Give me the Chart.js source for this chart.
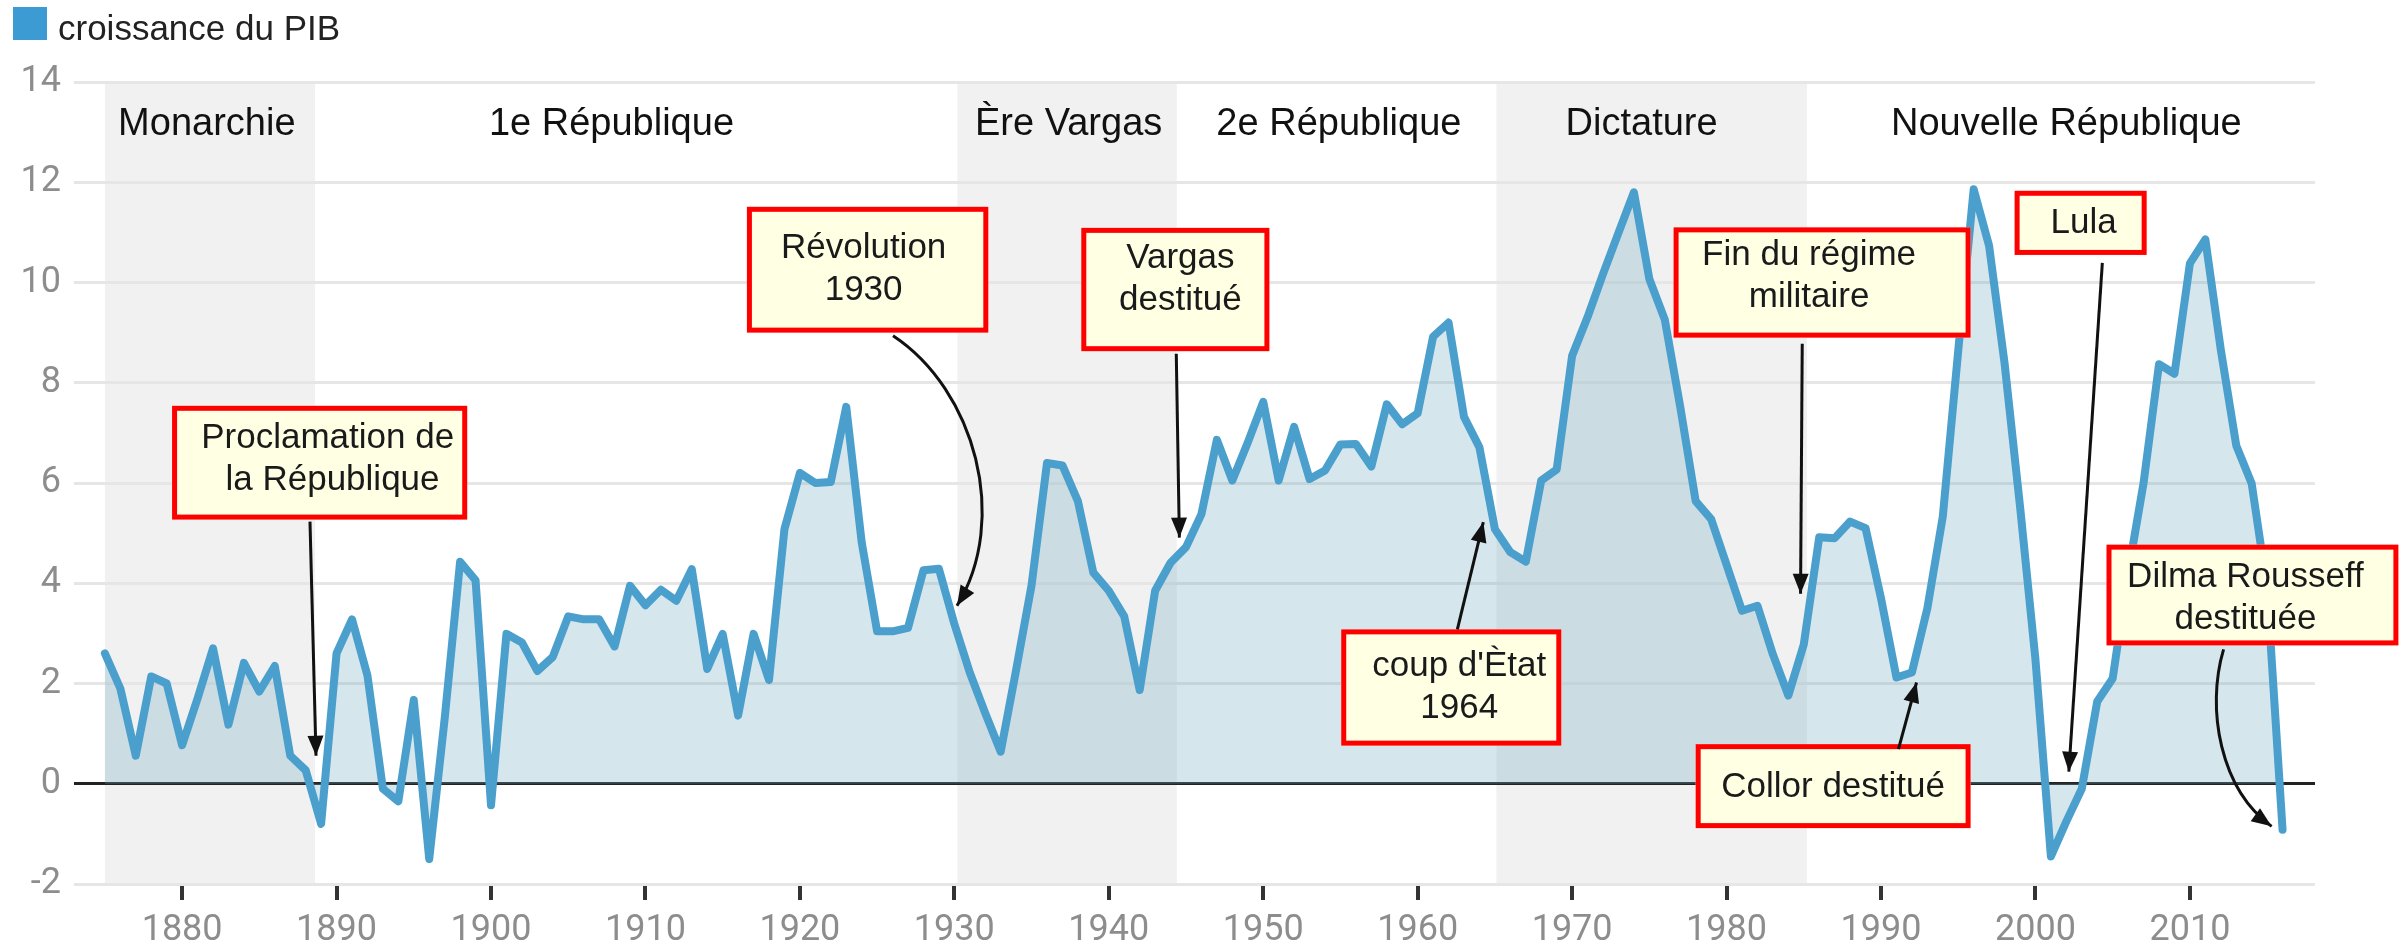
<!DOCTYPE html>
<html lang="fr">
<head>
<meta charset="utf-8">
<title>Croissance du PIB</title>
<script src="https://cdn.jsdelivr.net/npm/chart.js@4.4.1/dist/chart.umd.min.js"></script>
<style>
  html, body { margin: 0; padding: 0; background: #fff; }
  #wrap { position: relative; width: 2407px; height: 950px; }
</style>
</head>
<body>
<div id="wrap"><canvas id="pibChart"></canvas></div>
<script>
const years = [
  1875, 1876, 1877, 1878, 1879,
  1880, 1881, 1882, 1883, 1884, 1885, 1886, 1887, 1888, 1889,
  1890, 1891, 1892, 1893, 1894, 1895, 1896, 1897, 1898, 1899,
  1900, 1901, 1902, 1903, 1904, 1905, 1906, 1907, 1908, 1909,
  1910, 1911, 1912, 1913, 1914, 1915, 1916, 1917, 1918, 1919,
  1920, 1921, 1922, 1923, 1924, 1925, 1926, 1927, 1928, 1929,
  1930, 1931, 1932, 1933, 1934, 1935, 1936, 1937, 1938, 1939,
  1940, 1941, 1942, 1943, 1944, 1945, 1946, 1947, 1948, 1949,
  1950, 1951, 1952, 1953, 1954, 1955, 1956, 1957, 1958, 1959,
  1960, 1961, 1962, 1963, 1964, 1965, 1966, 1967, 1968, 1969,
  1970, 1971, 1972, 1973, 1974, 1975, 1976, 1977, 1978, 1979,
  1980, 1981, 1982, 1983, 1984, 1985, 1986, 1987, 1988, 1989,
  1990, 1991, 1992, 1993, 1994, 1995, 1996, 1997, 1998, 1999,
  2000, 2001, 2002, 2003, 2004, 2005, 2006, 2007, 2008, 2009,
  2010, 2011, 2012, 2013, 2014, 2015, 2016
];

// croissance du PIB (%)
const growth = [
  2.6, 1.9, 0.56, 2.14, 2.0,
  0.77, 1.7, 2.7, 1.18, 2.41, 1.84, 2.35, 0.56, 0.27, -0.8,
  2.6, 3.28, 2.16, -0.1, -0.35, 1.67, -1.5, 1.3, 4.43, 4.06,
  -0.43, 2.99, 2.82, 2.25, 2.53, 3.34, 3.28, 3.28, 2.74, 3.95,
  3.56, 3.87, 3.65, 4.28, 2.29, 2.99, 1.36, 2.99, 2.07, 5.08,
  6.2, 6.0, 6.02, 7.52, 4.82, 3.04, 3.04, 3.11, 4.26, 4.29,
  3.19, 2.22, 1.41, 0.64, 2.27, 3.96, 6.4, 6.35, 5.64, 4.21,
  3.85, 3.34, 1.87, 3.85, 4.41, 4.72, 5.38, 6.86, 6.05, 6.81,
  7.62, 6.05, 7.12, 6.08, 6.25, 6.77, 6.78, 6.33, 7.57, 7.17,
  7.39, 8.92, 9.2, 7.32, 6.71, 5.08, 4.62, 4.43, 6.05, 6.27,
  8.54, 9.31, 10.17, 10.99, 11.8, 10.07, 9.26, 7.52, 5.64, 5.28,
  4.37, 3.45, 3.55, 2.58, 1.76, 2.78, 4.92, 4.9, 5.23, 5.1,
  3.7, 2.12, 2.22, 3.5, 5.33, 8.64, 11.86, 10.73, 8.39, 5.54,
  2.48, -1.45, -0.75, -0.1, 1.64, 2.1, 4.2, 6.0, 8.37, 8.18,
  10.38, 10.86, 8.66, 6.75, 5.99, 3.9, -0.92
];

const yearTicks = [1880, 1890, 1900, 1910, 1920, 1930, 1940, 1950, 1960, 1970, 1980, 1990, 2000, 2010];

const periodNames = ['Monarchie', '1e République', 'Ère Vargas', '2e République', 'Dictature', 'Nouvelle République'];
const periodCenters = [1881.6, 1907.8, 1937.4, 1954.9, 1974.5, 2002.0];
const shadedPeriods = [[1875, 1888.6], [1930.2, 1944.4], [1965.1, 1985.2]];

// boxes: [year left, year right, value top, value bottom]; arrows in (year, value)
const notes = [
  { lines: ['Proclamation de', ' la République'], box: [1879.35, 1898.46, 7.54, 5.27], dx: 8, dy: -3,
    arrow: [[1888.28, 5.23], [1888.67, 0.56]] },
  { lines: ['Révolution', '1930'], box: [1916.57, 1932.2, 11.51, 9.0], dx: -4, dy: 0,
    arrow: [[1926.03, 8.94], [1931.34, 7.86], [1933.6, 5.27], [1930.17, 3.55]] },
  { lines: ['Vargas', 'destitué'], box: [1938.22, 1950.4, 11.09, 8.63], dx: 5, dy: -10,
    arrow: [[1944.37, 8.58], [1944.57, 4.91]] },
  { lines: ["coup d'Ètat", '1964'], box: [1955.05, 1969.3, 3.08, 0.76], dx: 8, dy: 0,
    arrow: [[1962.57, 3.08], [1964.25, 5.22]] },
  { lines: ['Fin du régime', 'militaire'], box: [1976.57, 1995.8, 11.1, 8.9], dx: -13, dy: -6,
    arrow: [[1984.9, 8.78], [1984.79, 3.79]] },
  { lines: ['Collor destitué'], box: [1978.0, 1995.8, 0.79, -0.885], dx: 0, dy: 1,
    arrow: [[1991.13, 0.69], [1992.3, 2.02]] },
  { lines: ['Lula'], box: [1998.65, 2007.2, 11.83, 10.55], dx: 3, dy: 0,
    arrow: [[2004.33, 10.39], [2002.16, 0.24]] },
  { lines: ['Dilma Rousseff', 'destituée'], box: [2004.6, 2023.5, 4.77, 2.76], dx: -7, dy: 3,
    arrow: [[2012.18, 2.68], [2011.02, 1.48], [2011.99, -0.12], [2015.29, -0.85]] }
];

const lineBlue = '#4a9fcc';
const labelFont = '"Liberation Sans", Arial, sans-serif';

function drawArrow(ctx, pts) {
  ctx.beginPath();
  ctx.moveTo(pts[0][0], pts[0][1]);
  if (pts.length === 4) {
    ctx.bezierCurveTo(pts[1][0], pts[1][1], pts[2][0], pts[2][1], pts[3][0], pts[3][1]);
  } else {
    ctx.lineTo(pts[1][0], pts[1][1]);
  }
  ctx.stroke();
  const [px, py] = pts[pts.length - 2];
  const [tx, ty] = pts[pts.length - 1];
  const ang = Math.atan2(ty - py, tx - px);
  const len = 20, half = 8;
  ctx.beginPath();
  ctx.moveTo(tx, ty);
  ctx.lineTo(tx - len * Math.cos(ang) + half * Math.sin(ang), ty - len * Math.sin(ang) - half * Math.cos(ang));
  ctx.lineTo(tx - len * Math.cos(ang) - half * Math.sin(ang), ty - len * Math.sin(ang) + half * Math.cos(ang));
  ctx.closePath();
  ctx.fill();
}

const decorations = {
  id: 'decorations',
  beforeDraw(chart) {
    const { ctx, chartArea: area, scales: { x } } = chart;
    ctx.save();
    ctx.fillStyle = '#f1f1f1';
    shadedPeriods.forEach(([from, to]) => {
      const x0 = x.getPixelForValue(from);
      const x1 = x.getPixelForValue(to);
      ctx.fillRect(x0, area.top, x1 - x0, area.bottom - area.top);
    });

    // legend
    ctx.fillStyle = '#3d9bd4';
    ctx.fillRect(13, 7, 34, 33);
    ctx.fillStyle = '#222';
    ctx.font = '35px ' + labelFont;
    ctx.textBaseline = 'alphabetic';
    ctx.textAlign = 'left';
    ctx.fillText(chart.data.datasets[0].label, 58, 40);
    ctx.restore();
  },
  afterDatasetsDraw(chart) {
    const { ctx, scales: { x, y } } = chart;
    ctx.save();

    ctx.fillStyle = '#111';
    ctx.font = '38px ' + labelFont;
    ctx.textAlign = 'center';
    ctx.textBaseline = 'middle';
    periodNames.forEach((name, i) => {
      ctx.fillText(name, x.getPixelForValue(periodCenters[i]), y.getPixelForValue(13.16));
    });

    notes.forEach(note => {
      const [yl, yr, vt, vb] = note.box;
      const left = x.getPixelForValue(yl), right = x.getPixelForValue(yr);
      const top = y.getPixelForValue(vt), bottom = y.getPixelForValue(vb);
      ctx.fillStyle = '#ffffe3';
      ctx.fillRect(left, top, right - left, bottom - top);
      ctx.strokeStyle = '#ff0000';
      ctx.lineWidth = 5;
      ctx.strokeRect(left + 2.5, top + 2.5, right - left - 5, bottom - top - 5);

      ctx.fillStyle = '#1a1a1a';
      ctx.font = '35px ' + labelFont;
      const cx = (left + right) / 2 + note.dx;
      const cy = (top + bottom) / 2 + note.dy;
      const step = 42;
      note.lines.forEach((line, i) => {
        ctx.fillText(line, cx, cy + (i - (note.lines.length - 1) / 2) * step);
      });

      ctx.strokeStyle = '#111';
      ctx.fillStyle = '#111';
      ctx.lineWidth = 3;
      drawArrow(ctx, note.arrow.map(([a, b]) => [x.getPixelForValue(a), y.getPixelForValue(b)]));
    });
    ctx.restore();
  }
};

new Chart(document.getElementById('pibChart'), {
  type: 'line',
  data: {
    datasets: [{
      label: 'croissance du PIB',
      data: years.map((yr, i) => ({ x: yr, y: growth[i] })),
      borderColor: lineBlue,
      borderWidth: 8,
      borderJoinStyle: 'round',
      borderCapStyle: 'round',
      backgroundColor: 'rgba(118, 172, 195, 0.3)',
      fill: 'origin',
      pointRadius: 0,
      tension: 0
    }]
  },
  options: {
    responsive: true,
    maintainAspectRatio: false,
    animation: false,
    devicePixelRatio: 1,
    layout: { padding: { top: 82, right: 92, left: 0, bottom: 0 } },
    plugins: {
      legend: { display: false },
      tooltip: { enabled: false }
    },
    scales: {
      x: {
        type: 'linear',
        min: 1873,
        max: 2018.1,
        afterBuildTicks: scale => { scale.ticks = yearTicks.map(v => ({ value: v })); },
        afterFit: scale => { scale.height = 66; },
        grid: { drawOnChartArea: false, drawTicks: true, tickLength: 16, color: '#333', lineWidth: 4 },
        border: { display: false },
        ticks: {
          autoSkip: false,
          maxRotation: 0,
          padding: 9,
          color: '#8d8d8d',
          font: { family: 'Roboto', size: 36 },
          callback: v => String(v)
        }
      },
      y: {
        min: -2,
        max: 14,
        afterFit: scale => { scale.width = 74; },
        grid: {
          drawTicks: false,
          color: ctx => ctx.tick.value === 0 ? '#222' : '#e6e6e6',
          lineWidth: 3
        },
        border: { display: false },
        ticks: {
          stepSize: 2,
          padding: 13,
          color: '#8d8d8d',
          font: { family: 'Roboto', size: 36 }
        }
      }
    }
  },
  plugins: [decorations]
});
</script>
</body>
</html>
